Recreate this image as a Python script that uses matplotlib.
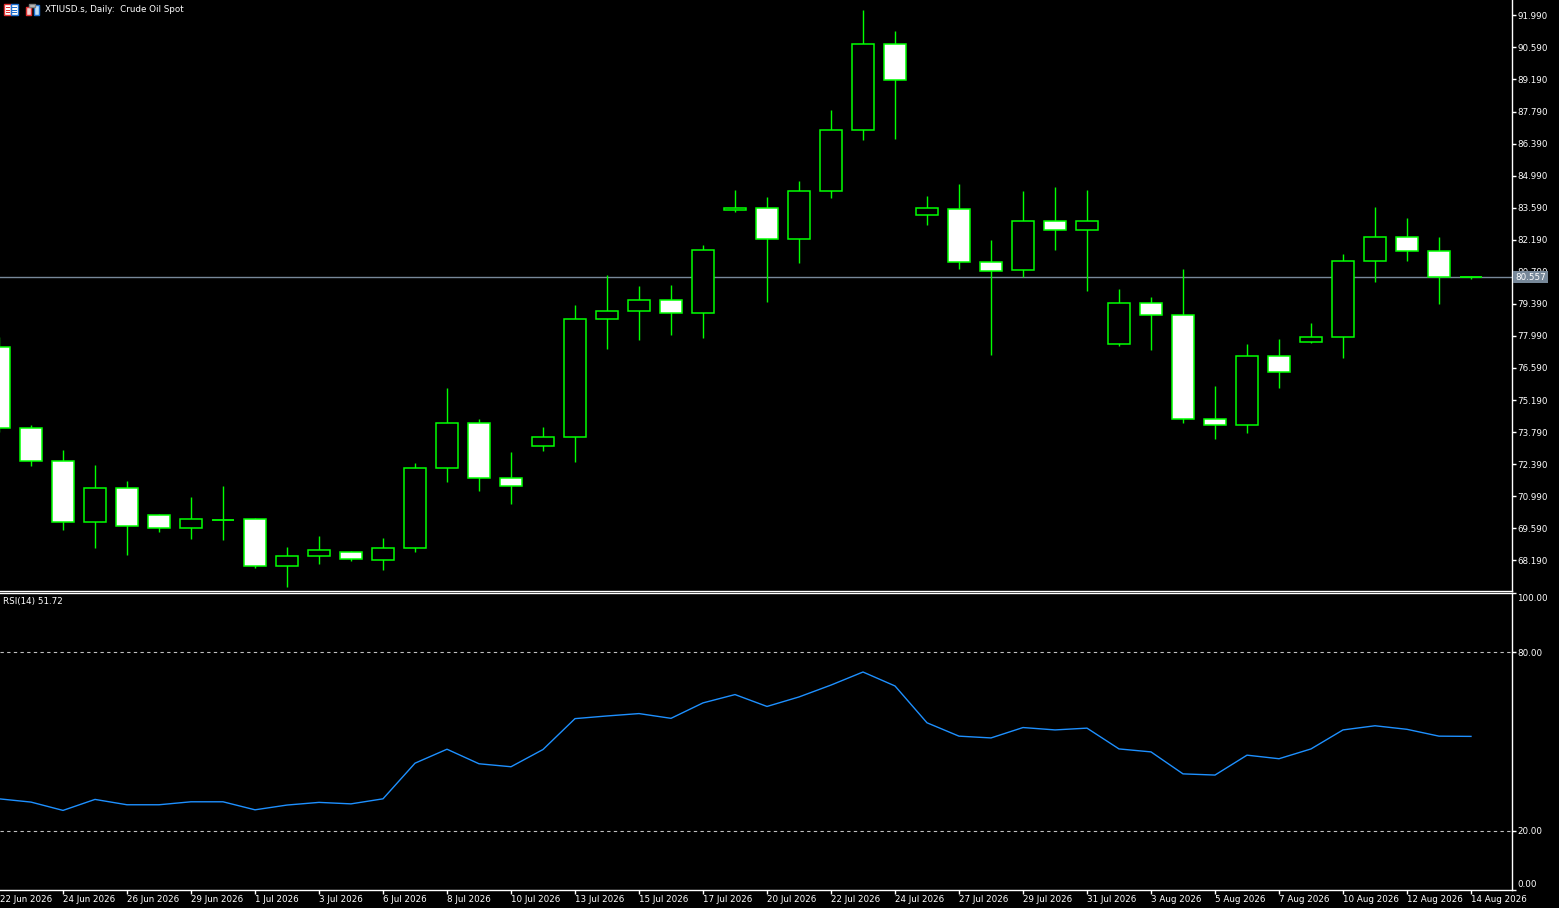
import matplotlib
matplotlib.use("Agg")
import matplotlib.pyplot as plt
from matplotlib.patches import Rectangle
import numpy as np

# ---------------- data ----------------
opens = [77.52, 73.97, 72.52, 69.85, 71.34, 70.16, 69.59, 69.95, 69.98, 67.93,
         68.36, 68.54, 68.22, 68.71, 72.21, 74.18, 71.78, 73.18, 73.57, 78.73,
         79.08, 79.56, 79.00, 83.50, 83.59, 82.23, 84.33, 87.00, 90.76, 83.28,
         83.55, 81.23, 80.88, 83.02, 82.63, 77.62, 79.43, 78.91, 74.36, 74.08,
         77.11, 77.73, 77.95, 81.27, 82.32, 81.71, 80.557]
highs = [77.95, 74.11, 73.02, 72.36, 71.66, 70.22, 70.96, 71.44, 70.04, 68.77,
         69.25, 68.58, 69.17, 72.43, 75.73, 74.37, 72.93, 74.02, 79.32, 80.63,
         80.15, 80.23, 81.98, 84.35, 84.04, 84.74, 87.85, 92.22, 91.30, 84.08,
         84.61, 82.16, 84.30, 84.48, 84.35, 80.02, 79.71, 80.93, 75.82, 77.65,
         77.87, 78.57, 81.55, 83.60, 83.12, 82.29, 80.61]
lows = [73.80, 72.33, 69.53, 68.74, 68.44, 69.44, 69.13, 69.09, 67.87, 67.03,
        68.04, 68.17, 67.77, 68.57, 71.59, 71.23, 70.67, 72.98, 72.50, 77.40,
        77.80, 78.02, 77.89, 83.40, 79.46, 81.17, 84.01, 86.55, 86.59, 82.82,
        80.90, 77.16, 80.58, 81.73, 79.94, 77.53, 77.39, 74.20, 73.47, 73.77,
        75.70, 77.67, 77.01, 80.33, 81.25, 79.37, 80.47]
closes = [73.97, 72.52, 69.85, 71.34, 69.68, 69.59, 69.98, 69.95, 67.93, 68.36,
          68.63, 68.23, 68.71, 72.21, 74.18, 71.78, 71.43, 73.57, 78.73, 79.08,
          79.56, 79.00, 81.75, 83.59, 82.23, 84.33, 87.00, 90.76, 89.15, 83.59,
          81.23, 80.83, 83.02, 82.63, 83.02, 79.43, 78.89, 74.38, 74.08, 77.11,
          76.41, 77.95, 81.27, 82.32, 81.71, 80.557, 80.557]
rsi = [30.7, 29.6, 26.8, 30.5, 28.7, 28.7, 29.7, 29.7, 27.0, 28.6,
       29.5, 29.0, 30.7, 42.7, 47.4, 42.5, 41.5, 47.3, 57.7, 58.6,
       59.4, 57.8, 63.0, 65.8, 61.8, 65.0, 69.0, 73.4, 68.7, 56.3,
       51.8, 51.2, 54.7, 53.9, 54.5, 47.5, 46.5, 39.1, 38.7, 45.4,
       44.2, 47.5, 53.9, 55.3, 54.1, 51.8, 51.72]
date_labels = ["22 Jun 2026", "24 Jun 2026", "26 Jun 2026", "29 Jun 2026",
               "1 Jul 2026", "3 Jul 2026", "6 Jul 2026", "8 Jul 2026",
               "10 Jul 2026", "13 Jul 2026", "15 Jul 2026", "17 Jul 2026",
               "20 Jul 2026", "22 Jul 2026", "24 Jul 2026", "27 Jul 2026",
               "29 Jul 2026", "31 Jul 2026", "3 Aug 2026", "5 Aug 2026",
               "7 Aug 2026", "10 Aug 2026", "12 Aug 2026", "14 Aug 2026"]
price_ticks = [68.19, 69.59, 70.99, 72.39, 73.79, 75.19, 76.59, 77.99, 79.39,
               80.79, 82.19, 83.59, 84.99, 86.39, 87.79, 89.19, 90.59, 91.99]
last_price = 80.557
rsi_levels = [20, 80]

# ---------------- layout ----------------
W, H = 1559, 908
fig = plt.figure(figsize=(W / 100, H / 100), dpi=100, facecolor="black")
FS = 6.3
FONT = "DejaVu Sans"
GREEN = "#00FF00"

def fx(px):
    return px / W

def fy(py):
    return 1 - py / H

ax = fig.add_axes([0, fy(591), fx(1512), 1 - fy(591)])
axr = fig.add_axes([0, fy(890), fx(1512), fy(593) - fy(890)])

for a in (ax, axr):
    a.set_facecolor("black")
    for s in a.spines.values():
        s.set_color("white")
        s.set_linewidth(1)
    a.spines["left"].set_visible(False)

ax.spines["top"].set_visible(False)

n = len(opens)
xs = np.arange(n)
xlim = (1 / 32, 1513 / 32)

# ---------------- candles ----------------
width = 0.69
ax.vlines(xs, lows, highs, color=GREEN, linewidth=1, zorder=2)
for i in range(n):
    o, c = opens[i], closes[i]
    bottom = min(o, c)
    h = abs(c - o)
    fill = "white" if c < o else "black"
    if h < 0.02:
        ax.hlines(o, i - width / 2, i + width / 2, color=GREEN, linewidth=1.3, zorder=3)
    else:
        ax.bar(i, h, bottom=bottom, width=width, color=fill, edgecolor=GREEN,
               linewidth=1.1, zorder=3)

ax.set_xlim(*xlim)
ax.set_ylim(66.85, 92.66)
ax.axhline(last_price, color="#778899", linewidth=1, zorder=1)

ax.yaxis.tick_right()
ax.set_yticks(price_ticks)
ax.set_yticklabels([f"{v:.3f}" for v in price_ticks])
ax.tick_params(axis="y", colors="white", labelcolor="white", length=3, width=1,
               pad=1, labelsize=FS)
for t in ax.get_yticklabels():
    t.set_fontfamily(FONT)
ax.set_xticks([])

# current price box (covers the 80.790 tick label as in the terminal)
ax.text(1.0 + fx(3) / fx(1512), last_price, f"{last_price:.3f}",
        transform=ax.get_yaxis_transform(), ha="left", va="center",
        color="white", fontsize=FS, family=FONT, zorder=10, clip_on=False,
        bbox=dict(boxstyle="square,pad=0.2", facecolor="#778899", edgecolor="none"))

# title
fig.text(fx(45), fy(9.5), "XTIUSD.s, Daily:  Crude Oil Spot", color="white",
         fontsize=FS, family=FONT, ha="left", va="center")

# icons (decorative)
def frect(x0, y0, w, h, fc, ec=None, lw=0):
    fig.patches.append(Rectangle((fx(x0), fy(y0 + h)), fx(w), h / H,
                                 transform=fig.transFigure, facecolor=fc,
                                 edgecolor=ec if ec else fc, linewidth=lw))

frect(4, 4, 7, 11, "white", "#E03030", 1)
frect(11, 4, 7, 11, "white", "#1E6FD0", 1)
for yy in (7, 10, 12.5):
    frect(5.5, yy, 4.5, 0.9, "#E03030")
    frect(12, yy, 4.5, 0.9, "#1E6FD0")
frect(25.5, 7, 5, 8, "#F5D0D0", "#E03030", 1)
frect(34, 4.5, 5, 10.5, "#BFDFF5", "#1E6FD0", 1)
frect(29, 3.5, 6, 3, "#C0C0C0", "#808080", 1)

# ---------------- RSI ----------------
axr.plot(xs, rsi, color="#1E90FF", linewidth=1)
for lv in rsi_levels:
    axr.axhline(lv, color="#C0C0C0", linewidth=0.8, linestyle=(0, (3, 3)))
axr.set_xlim(*xlim)
axr.set_ylim(0, 100)
axr.yaxis.tick_right()
axr.set_yticks([0, 20, 80, 100])
axr.set_yticklabels(["", "20.00", "80.00", ""])
axr.tick_params(axis="y", colors="white", labelcolor="white", length=3, width=1,
                pad=1, labelsize=FS)
for t in axr.get_yticklabels():
    t.set_fontfamily(FONT)
axr.text(1.0 + fx(5) / fx(1512), 98.2, "100.00", transform=axr.get_yaxis_transform(),
         ha="left", va="center", color="white", fontsize=FS, family=FONT, clip_on=False)
axr.text(1.0 + fx(5) / fx(1512), 2.0, "0.00", transform=axr.get_yaxis_transform(),
         ha="left", va="center", color="white", fontsize=FS, family=FONT, clip_on=False)

axr.set_xticks(xs[2::2])
axr.set_xticklabels(date_labels[1:], ha="left", fontfamily=FONT)
axr.tick_params(axis="x", colors="white", labelcolor="white", length=3, width=1,
                pad=0.5, labelsize=FS)
# first date label sits at the clipped left edge
fig.text(fx(0.5), fy(899), date_labels[0], color="white", fontsize=FS,
         family=FONT, ha="left", va="center")

axr.text(fx(3) / fx(1512), 0.97, f"RSI(14) {rsi[-1]:.2f}", transform=axr.transAxes,
         ha="left", va="center", color="white", fontsize=FS, family=FONT)

fig.savefig("out.png", dpi=100, facecolor="black")
